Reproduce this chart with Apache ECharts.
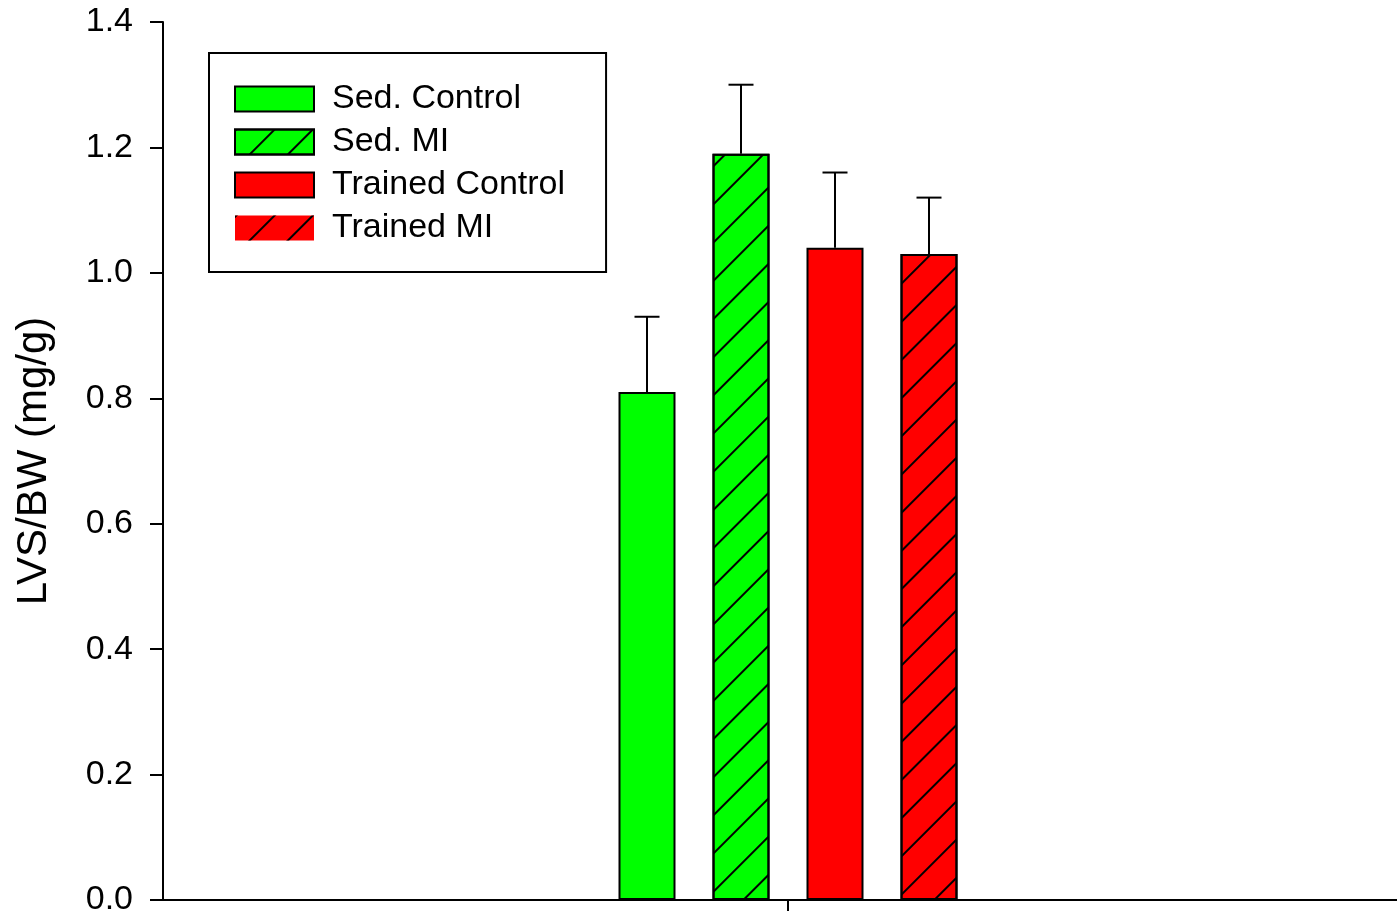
<!DOCTYPE html>
<html>
<head>
<meta charset="utf-8">
<script src="https://cdn.jsdelivr.net/npm/echarts@6/dist/echarts.min.js"></script>
<style>
  html, body { margin: 0; padding: 0; background: #fff; }
  #chart { width: 1397px; height: 913px; }
</style>
</head>
<body>
<div id="chart"></div>
<script>
// data
var groups = ['Sed. Control', 'Sed. MI', 'Trained Control', 'Trained MI'];
var means = [0.81, 1.19, 1.04, 1.03];
var sems = [0.12, 0.11, 0.12, 0.09];
var hatched = [false, true, false, true];
var fills = ['#00ff00', '#00ff00', '#ff0000', '#ff0000'];
var yTicks = [0, 0.2, 0.4, 0.6, 0.8, 1.0, 1.2, 1.4];

var BAR_W = 57;
var GAP_PX = 37;
var FONT = 'Liberation Sans, Arial, sans-serif';

var chart = echarts.init(document.getElementById('chart'));

var stripes = {
    symbol: 'rect',
    color: '#000',
    dashArrayX: [1, 0],
    dashArrayY: [1.8, 25],
    rotation: -Math.PI / 4
};

var series = groups.map(function (name, i) {
    return {
        name: name,
        type: 'bar',
        barWidth: BAR_W,
        barGap: (GAP_PX / BAR_W * 100) + '%',
        data: [means[i]],
        itemStyle: {
            color: fills[i],
            borderColor: '#000',
            borderWidth: 2,
            decal: hatched[i] ? stripes : null
        },
        emphasis: { disabled: true }
    };
});

// upper error bars
var errData = groups.map(function (g, i) {
    return [0, means[i], means[i] + sems[i], i];
});
series.push({
    name: 'err',
    type: 'custom',
    data: errData,
    z: 3,
    renderItem: function (params, api) {
        var off = (api.value(3) - 1.5) * (BAR_W + GAP_PX);
        var base = api.coord([api.value(0), api.value(1)]);
        var top = api.coord([api.value(0), api.value(2)]);
        var x = base[0] + off;
        var st = { stroke: '#000', lineWidth: 2 };
        return {
            type: 'group',
            children: [
                { type: 'line', shape: { x1: x, y1: base[1], x2: x, y2: top[1] }, style: st },
                { type: 'line', shape: { x1: x - 12.5, y1: top[1], x2: x + 12.5, y2: top[1] }, style: st }
            ]
        };
    }
});

var legendData = groups.map(function (name, i) {
    var item = { name: name };
    if (i === 3) item.itemStyle = { borderWidth: 0 };
    return item;
});

var option = {
    animation: false,
    backgroundColor: '#fff',
    textStyle: { fontFamily: FONT },
    grid: { left: 163, top: 22, width: 1250, height: 878, outerBoundsMode: 'none', containLabel: false },
    legend: {
        data: legendData,
        orient: 'vertical',
        left: 209,
        top: 53,
        padding: [29, 41, 27, 25],
        itemWidth: 79,
        itemHeight: 25,
        itemGap: 9,
        icon: 'rect',
        borderColor: '#000',
        borderWidth: 2,
        selectedMode: false,
        textStyle: { fontSize: 34, color: '#000', fontFamily: FONT, padding: [0, 0, 0, 13] }
    },
    xAxis: {
        type: 'category',
        data: [''],
        axisLine: { lineStyle: { color: '#000', width: 2 } },
        axisTick: { show: true, alignWithLabel: true, interval: 0, length: 11, lineStyle: { color: '#000', width: 2 } },
        axisLabel: { show: true, interval: 0 },
        splitLine: { show: false }
    },
    yAxis: {
        type: 'value',
        min: yTicks[0],
        max: yTicks[yTicks.length - 1],
        interval: 0.2,
        name: 'LVS/BW (mg/g)',
        nameLocation: 'middle',
        nameGap: 108,
        nameTextStyle: { fontSize: 42, color: '#000', fontFamily: FONT },
        axisLine: { show: true, lineStyle: { color: '#000', width: 2 } },
        axisTick: { show: true, inside: false, length: 13, lineStyle: { color: '#000', width: 2 } },
        axisLabel: {
            margin: 30,
            fontSize: 34,
            color: '#000',
            fontFamily: FONT,
            formatter: function (v) { return v.toFixed(1); }
        },
        splitLine: { show: false }
    },
    series: series
};

chart.setOption(option);
</script>
</body>
</html>
